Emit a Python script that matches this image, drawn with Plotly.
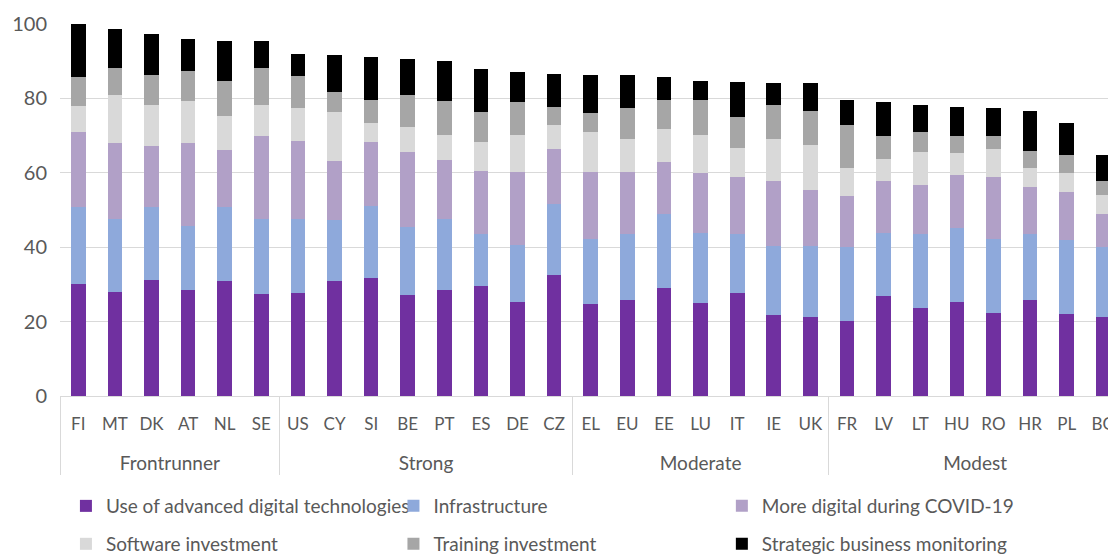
import plotly.graph_objects as go

groups = ["Frontrunner"] * 6 + ["Strong"] * 8 + ["Moderate"] * 7 + ["Modest"] * 8
countries = ["FI", "MT", "DK", "AT", "NL", "SE",
             "US", "CY", "SI", "BE", "PT", "ES", "DE", "CZ",
             "EL", "EU", "EE", "LU", "IT", "IE", "UK",
             "FR", "LV", "LT", "HU", "RO", "HR", "PL", "BG"]

advanced_tech = [30.0, 28.0, 31.1, 28.4, 30.8, 27.5,
                 27.6, 31.0, 31.8, 27.2, 28.4, 29.7, 25.2, 32.6,
                 24.7, 25.7, 29.0, 24.9, 27.6, 21.8, 21.3,
                 20.2, 26.9, 23.6, 25.2, 22.4, 25.7, 22.1, 21.3]
infrastructure = [20.7, 19.6, 19.8, 17.3, 19.9, 20.0,
                  19.9, 16.4, 19.4, 18.3, 19.1, 13.8, 15.4, 19.0,
                  17.5, 17.9, 20.0, 18.9, 16.0, 18.6, 18.9,
                  19.8, 16.9, 19.9, 19.9, 19.8, 17.9, 19.9, 18.7]
covid_digital = [20.2, 20.4, 16.2, 22.3, 15.5, 22.3,
                 21.1, 15.8, 17.2, 20.1, 16.0, 17.0, 19.6, 14.9,
                 18.0, 16.6, 13.9, 16.1, 15.2, 17.3, 15.2,
                 13.8, 13.9, 13.1, 14.2, 16.6, 12.5, 12.8, 9.0]
software_inv = [7.1, 13.0, 11.0, 11.2, 9.1, 8.3,
                8.8, 13.1, 4.9, 6.8, 6.7, 7.8, 10.0, 6.4,
                10.9, 8.9, 8.8, 10.3, 7.8, 11.4, 12.1,
                7.6, 6.1, 9.1, 6.0, 7.7, 5.3, 5.1, 5.1]
training_inv = [7.7, 7.2, 8.3, 8.1, 9.5, 10.2,
                8.5, 5.4, 6.3, 8.4, 9.0, 8.0, 8.8, 4.9,
                5.0, 8.3, 7.9, 9.3, 8.3, 9.2, 9.2,
                11.5, 6.2, 5.4, 4.7, 3.3, 4.5, 4.8, 3.7]
monitoring = [14.3, 10.5, 11.0, 8.7, 10.7, 7.2,
              6.1, 10.0, 11.6, 9.8, 10.8, 11.6, 8.1, 8.8,
              10.3, 8.8, 6.1, 5.3, 9.4, 5.8, 7.4,
              6.7, 8.9, 7.0, 7.7, 7.6, 10.8, 8.6, 6.9]

series = [
    ("Use of advanced digital technologies", advanced_tech, "#7030A0"),
    ("Infrastructure", infrastructure, "#8EA9DB"),
    ("More digital during COVID-19", covid_digital, "#B1A0C7"),
    ("Software investment", software_inv, "#D9D9D9"),
    ("Training investment", training_inv, "#A6A6A6"),
    ("Strategic business monitoring", monitoring, "#000000"),
]

FONT = "Lato"
TEXT_COLOR = "#595959"

# country codes and group labels with their own sizes; group labels one line lower
country_labels = [f"<span style='font-size:17px'>{c}</span>" for c in countries]
group_labels = [f"<br><span style='font-size:19px'>{g}</span>" for g in groups]

# legend slots: (x, y) in container coordinates, one legend per series
legend_slots = [
    (0.0595, 0.0866), (0.3551, 0.0866), (0.6515, 0.0866),
    (0.0595, 0.0181), (0.3551, 0.0181), (0.6515, 0.0181),
]

fig = go.Figure()
for i, (name, vals, color) in enumerate(series):
    lg = "legend" if i == 0 else f"legend{i + 1}"
    fig.add_trace(go.Bar(
        x=[group_labels, country_labels], y=vals, name=name,
        marker=dict(color=color, line=dict(width=0)),
        legend=lg, showlegend=True,
    ))

layout_legends = {}
for i, (lx, ly) in enumerate(legend_slots):
    key = "legend" if i == 0 else f"legend{i + 1}"
    layout_legends[key] = dict(
        x=lx, y=ly, xref="container", yref="container",
        xanchor="left", yanchor="middle",
        orientation="h", bgcolor="rgba(0,0,0,0)",
        font=dict(family=FONT, size=19, color=TEXT_COLOR),
    )

fig.update_layout(
    barmode="stack",
    bargap=0.6,
    width=1108, height=554,
    margin=dict(l=60, r=0, t=24, b=158),
    plot_bgcolor="white", paper_bgcolor="white",
    font=dict(family=FONT, color=TEXT_COLOR),
    showlegend=True,
    **layout_legends,
)
fig.update_xaxes(
    type="multicategory",
    range=[-0.5, 28.13],
    showline=True, linecolor="#D9D9D9", linewidth=1,
    showgrid=False,
    showdividers=True, dividercolor="#D9D9D9", dividerwidth=1,
    ticklabelstandoff=9,
    tickfont=dict(family=FONT, size=20, color=TEXT_COLOR),
)
fig.update_yaxes(
    range=[0, 100], dtick=20,
    showgrid=True, gridcolor="#D9D9D9", gridwidth=1,
    zeroline=False, showline=False,
    ticklabelstandoff=12,
    tickfont=dict(family=FONT, size=20, color=TEXT_COLOR),
)

fig.write_html("out.html")
